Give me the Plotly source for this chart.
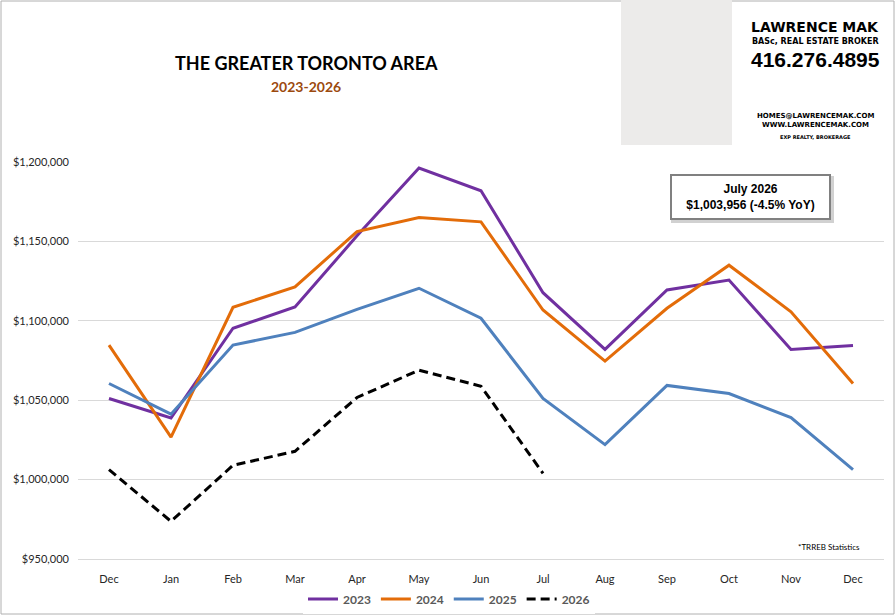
import plotly.graph_objects as go

# Average home price, Greater Toronto Area
months = ["Dec", "Jan", "Feb", "Mar", "Apr", "May", "Jun",
          "Jul", "Aug", "Sep", "Oct", "Nov", "Dec"]

prices_2023 = [1051100, 1038800, 1095300, 1108700, 1153500, 1196200, 1181900,
               1117700, 1082000, 1119400, 1125700, 1082000, 1084500]
prices_2024 = [1084700, 1026700, 1108500, 1121300, 1156200, 1165100, 1162300,
               1106800, 1074600, 1107900, 1135000, 1105700, 1060500]
prices_2025 = [1060500, 1041200, 1084700, 1092700, 1107200, 1120500, 1101600,
               1051100, 1022000, 1059300, 1054200, 1039100, 1006300]
prices_2026 = [1006300, 973700, 1009000, 1017800, 1051700, 1068900, 1058800,
               1003956]

y_ticks = [950000, 1000000, 1050000, 1100000, 1150000, 1200000]

series = [
    ("2023", prices_2023, "#7030A0", "solid"),
    ("2024", prices_2024, "#E36C09", "solid"),
    ("2025", prices_2025, "#4F81BD", "solid"),
    ("2026", prices_2026, "#000000", "9px,5px"),
]

# plot area in pixels (896x616 page)
L, R, T, B = 78, 884, 162, 559
W, H = R - L, B - T


def px_x(px):
    return (px - L) / W


def px_y(py):
    return (B - py) / H


fig = go.Figure()

for name, values, color, dash in series:
    fig.add_trace(
        go.Scatter(
            x=list(range(len(values))),
            y=values,
            mode="lines",
            name="<b>%s</b>" % name,
            line=dict(color=color, width=3, dash=dash),
        )
    )

fig.update_layout(
    width=896,
    height=616,
    margin=dict(l=L, r=896 - R, t=T, b=616 - B, autoexpand=False),
    paper_bgcolor="white",
    plot_bgcolor="white",
    font=dict(family="Lato", size=11, color="#404040"),
    showlegend=True,
    legend=dict(
        orientation="h",
        x=px_x(449),
        xanchor="center",
        y=px_y(599),
        yanchor="middle",
        font=dict(family="Lato", size=12, color="#595959"),
        itemwidth=30,
        tracegroupgap=0,
    ),
)

fig.update_xaxes(
    range=[-0.5, len(months) - 0.5],
    tickvals=list(range(len(months))),
    ticktext=months,
    showgrid=False,
    showline=True,
    linecolor="#d9d9d9",
    linewidth=1,
    ticks="",
    ticklabelstandoff=10,
    tickfont=dict(family="Lato", size=11, color="#262626"),
    zeroline=False,
    automargin=False,
    fixedrange=True,
)

fig.update_yaxes(
    range=[950000, 1200000],
    tickvals=y_ticks,
    tickformat="$,.0f",
    showgrid=True,
    gridcolor="#d9d9d9",
    gridwidth=1,
    showline=False,
    zeroline=False,
    ticks="",
    ticklabelstandoff=8,
    tickfont=dict(family="Lato", size=11, color="#262626"),
    automargin=False,
    fixedrange=True,
)

# outer chart border
fig.add_shape(type="rect", xref="paper", yref="paper",
              x0=px_x(1), x1=px_x(894), y0=px_y(614), y1=px_y(1),
              line=dict(color="#b0b0b0", width=1), fillcolor="rgba(0,0,0,0)",
              layer="below")

# photo placeholder
fig.add_shape(type="rect", xref="paper", yref="paper",
              x0=px_x(621), x1=px_x(732), y0=px_y(145), y1=px_y(0),
              line=dict(width=0), fillcolor="#ecebea", layer="below")

# callout box shadow
fig.add_shape(type="rect", xref="paper", yref="paper",
              x0=px_x(671), x1=px_x(834), y0=px_y(223), y1=px_y(176),
              line=dict(width=0), fillcolor="rgba(0,0,0,0.18)", layer="above")

notes = [
    ("THE GREATER TORONTO AREA", 306, 63, "Lato", 18, "#000000", "center"),
    ("2023-2026", 306, 86, "Lato", 14, "#9C4A0F", "center"),
    ("LAWRENCE MAK", 815, 27, "DejaVu Sans", 14, "#000000", "center"),
    ("BASc, REAL ESTATE BROKER", 815, 41, "DejaVu Sans", 8, "#000000", "center"),
    ("416.276.4895", 815, 60, "Liberation Sans", 21, "#000000", "center"),
    ("HOMES@LAWRENCEMAK.COM", 815, 116, "DejaVu Sans", 7, "#000000", "center"),
    ("WWW.LAWRENCEMAK.COM", 815, 125, "DejaVu Sans", 7, "#000000", "center"),
    ("EXP REALTY, BROKERAGE", 815, 137, "DejaVu Sans", 5, "#000000", "center"),
    ("*TRREB Statistics", 862, 547, "Lato", 8, "#000000", "right"),
]
for text, x, y, family, size, color, anchor in notes:
    fig.add_annotation(
        text="<b>%s</b>" % text if "TRREB" not in text else text,
        xref="paper", yref="paper",
        x=px_x(x), y=px_y(y),
        xanchor=anchor, yanchor="middle",
        showarrow=False,
        font=dict(family=family, size=size, color=color),
    )

fig.add_annotation(
    text="<b>July 2026<br>$1,003,956 (-4.5% YoY)</b>",
    xref="paper", yref="paper",
    x=px_x(750), y=px_y(197),
    xanchor="center", yanchor="middle",
    showarrow=False,
    font=dict(family="Liberation Sans", size=12, color="#000000"),
    bgcolor="white",
    bordercolor="#808080",
    borderwidth=2,
    width=155,
    height=40,
)

# page body has a default 8px margin; drop it so the figure fills the window
fig.write_html("out.html", config={"displayModeBar": False},
               post_script="document.body.style.margin='0';")
